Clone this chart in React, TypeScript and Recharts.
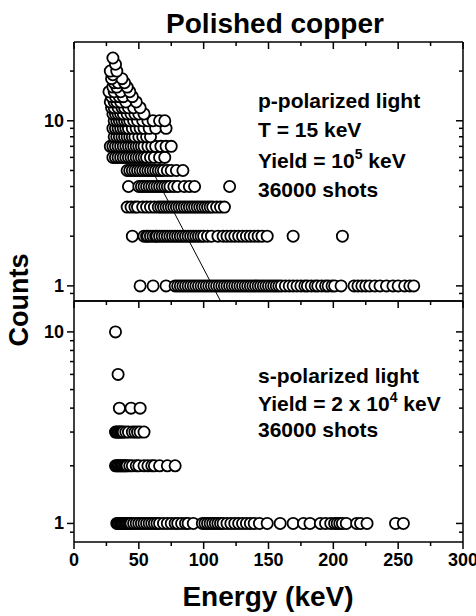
import React from "react";
import { ScatterChart, Scatter, XAxis, YAxis } from "recharts";

const FONT = "'Liberation Sans', Arial, Helvetica, sans-serif";

// count levels and the energies (keV) seen at each level, p-polarized light (top panel)
const pLevels = [1, 2, 3, 4, 5, 6, 7, 8, 9, 10, 11, 12, 13, 14, 15, 16, 17, 18, 19, 20, 22, 24];
const pEnergies = [
  [51, 61, 71, 78, 80, 82, 84, 86, 88, 90, 92, 94, 96, 98, 100, 102, 104, 106, 108, 110, 112, 114, 116, 118, 120, 122, 124, 126, 128, 130, 132, 134, 136, 138, 140, 142, 144, 146, 148, 150, 152, 154, 156, 158, 160, 163, 166, 169, 172, 175, 178, 180, 183, 186, 188, 191, 194, 196, 199, 201, 206, 216, 219, 222, 225, 228, 232, 236, 241, 246, 250, 255, 259, 262],
  [45, 54, 56, 57, 59, 61, 63, 64, 66, 68, 70, 72, 74, 76, 78, 80, 82, 84, 86, 88, 90, 92, 94, 96, 98, 100, 103, 106, 111, 115, 118, 121, 124, 127, 130, 133, 136, 139, 142, 145, 149, 169, 207],
  [41, 44, 47, 49, 53, 56, 59, 62, 65, 67, 69, 71, 73, 75, 77, 79, 81, 83, 85, 87, 89, 91, 93, 95, 97, 99, 101, 103, 105, 107, 110, 113, 116],
  [42, 50, 52, 54, 56, 58, 60, 62, 64, 66, 68, 70, 72, 74, 77, 80, 85, 89, 93, 120],
  [41, 43, 45, 47, 49, 51, 53, 55, 57, 59, 61, 63, 65, 67, 69, 72, 75, 79, 84],
  [30, 32, 34, 36, 38, 40, 42, 44, 46, 48, 50, 52, 54, 56, 59, 62, 66, 70],
  [28, 30, 32, 34, 36, 38, 40, 42, 44, 46, 48, 50, 52, 54, 57, 60, 63, 67, 71, 75],
  [31, 33, 35, 37, 39, 41, 43, 45, 47, 50, 53, 56, 59],
  [30, 32, 34, 36, 38, 40, 42, 45, 48, 51, 54, 58, 63, 71],
  [31, 33, 35, 37, 39, 41, 43, 46, 49, 53, 57, 61, 66, 70],
  [30, 32, 34, 36, 38, 41, 44, 47, 50, 54],
  [29, 31, 34, 37, 39, 42, 46, 51],
  [28, 31, 33, 36, 40, 48],
  [29, 32, 35, 38, 45],
  [27, 31, 36, 43],
  [30, 33, 41],
  [31, 34, 39],
  [29, 37],
  [30],
  [28, 33],
  [32],
  [30],
];

// s-polarized light (bottom panel)
const sLevels = [1, 2, 3, 4, 6, 10];
const sEnergies = [
  [33, 34, 35, 36, 37, 38, 39, 40, 41, 42, 43, 44, 46, 48, 50, 52, 54, 56, 58, 60, 62, 64, 66, 69, 72, 75, 78, 80, 83, 86, 88, 92, 99, 101, 103, 105, 107, 109, 111, 113, 115, 118, 121, 124, 127, 130, 133, 136, 139, 143, 149, 159, 169, 177, 182, 190, 194, 198, 201, 203, 205, 207, 210, 218, 221, 226, 248, 254],
  [32, 33, 34, 35, 36, 37, 38, 39, 40, 41, 43, 45, 48, 50, 54, 57, 60, 62, 66, 72, 78],
  [32, 33, 34, 35, 36, 37, 38, 40, 42, 45, 47, 49, 51, 54],
  [35, 44, 51],
  [34],
  [32],
];

// fitted exponential drawn across the top panel
const fitEnergy = [30, 113];
const fitCounts = [14.2, 0.81];

const xTicks = [0, 25, 50, 75, 100, 125, 150, 175, 200, 225, 250, 275, 300];
const xLabels = [0, 50, 100, 150, 200, 250, 300];
const topYTicks = [0.9, 1, 2, 3, 4, 5, 6, 7, 8, 9, 10, 20];
const bottomYTicks = [0.9, 1, 2, 3, 4, 5, 6, 7, 8, 9, 10];
const yLabels = [1, 10];

const pData = pLevels.flatMap((c, i) => pEnergies[i].map((e) => ({ e, c })));
const sData = sLevels.flatMap((c, i) => sEnergies[i].map((e) => ({ e, c })));
const fitData = fitEnergy.map((e, i) => ({ e, c: fitCounts[i] }));

const W = 476;
const LEFT = 74;
const RIGHT = 13;

const Dot = (p: any) => (
  <circle cx={p.cx} cy={p.cy} r={5.6} fill="#fff" stroke="#000" strokeWidth={1.8} />
);

const tickText = {
  fontFamily: FONT,
  fontWeight: 700,
  fontSize: 18,
  fill: "#000",
};

const BottomTick = (p: any) => {
  const major = xLabels.includes(p.payload.value);
  const len = major ? 7 : 4;
  return (
    <g>
      <line x1={p.x} x2={p.x} y1={p.y} y2={p.y + len} stroke="#000" strokeWidth={1.5} />
      {major && (
        <text x={p.x} y={p.y + 24} textAnchor="middle" style={tickText}>
          {p.payload.value}
        </text>
      )}
    </g>
  );
};

const TopTick = (p: any) => {
  const len = xLabels.includes(p.payload.value) ? 7 : 4;
  return <line x1={p.x} x2={p.x} y1={p.y} y2={p.y + len} stroke="#000" strokeWidth={1.5} />;
};

const LeftTick = (p: any) => {
  const major = yLabels.includes(p.payload.value);
  const len = major ? 7 : 4;
  return (
    <g>
      <line x1={p.x} x2={p.x - len} y1={p.y} y2={p.y} stroke="#000" strokeWidth={1.5} />
      {major && (
        <text x={p.x - len - 3} y={p.y + 6} textAnchor="end" style={tickText}>
          {p.payload.value}
        </text>
      )}
    </g>
  );
};

const RightTick = (p: any) => {
  const len = yLabels.includes(p.payload.value) ? 7 : 4;
  return <line x1={p.x} x2={p.x - len} y1={p.y} y2={p.y} stroke="#000" strokeWidth={1.5} />;
};

const axisLine = { stroke: "#000", strokeWidth: 1.5 };

function Panel({
  height,
  topH,
  bottomH,
  domain,
  yTicks,
  data,
  fit,
  labels,
}: {
  height: number;
  topH: number;
  bottomH: number;
  domain: [number, number];
  yTicks: number[];
  data: { e: number; c: number }[];
  fit?: { e: number; c: number }[];
  labels: boolean;
}) {
  return (
    <ScatterChart width={W} height={height} margin={{ top: 0, right: 0, bottom: 0, left: 0 }}>
      <XAxis
        xAxisId="b"
        dataKey="e"
        type="number"
        domain={[0, 300]}
        ticks={labels ? xTicks : []}
        interval={0}
        height={bottomH}
        tickSize={0}
        tickMargin={0}
        tickLine={false}
        axisLine={axisLine}
        tick={labels ? <BottomTick /> : false}
        allowDataOverflow
      />
      <XAxis
        xAxisId="t"
        orientation="top"
        dataKey="e"
        type="number"
        domain={[0, 300]}
        ticks={xTicks}
        interval={0}
        height={topH}
        tickSize={0}
        tickMargin={0}
        tickLine={false}
        axisLine={axisLine}
        tick={<TopTick />}
        allowDataOverflow
      />
      <YAxis
        yAxisId="l"
        dataKey="c"
        type="number"
        scale="log"
        domain={domain}
        ticks={yTicks}
        interval={0}
        width={LEFT}
        tickSize={0}
        tickMargin={0}
        tickLine={false}
        axisLine={axisLine}
        tick={<LeftTick />}
        allowDataOverflow
      />
      <YAxis
        yAxisId="r"
        orientation="right"
        dataKey="c"
        type="number"
        scale="log"
        domain={domain}
        ticks={yTicks}
        interval={0}
        width={RIGHT}
        tickSize={0}
        tickMargin={0}
        tickLine={false}
        axisLine={axisLine}
        tick={<RightTick />}
        allowDataOverflow
      />
      {fit && (
        <Scatter
          xAxisId="b"
          yAxisId="l"
          data={fit}
          line={{ stroke: "#000", strokeWidth: 1 }}
          shape={() => <g />}
          isAnimationActive={false}
        />
      )}
      <Scatter
        xAxisId="b"
        yAxisId="l"
        data={data}
        shape={<Dot />}
        isAnimationActive={false}
      />
    </ScatterChart>
  );
}

const txt = { fontFamily: FONT, fontWeight: 700, fill: "#000" };

export default function App() {
  return (
    <div style={{ position: "absolute", left: 0, top: 0, width: W, height: 616, background: "#fff" }}>
      <div style={{ position: "absolute", left: 0, top: 0 }}>
        <Panel
          height={616}
          topH={301}
          bottomH={74}
          domain={[0.8, 14.5]}
          yTicks={bottomYTicks}
          data={sData}
          labels
        />
      </div>
      <div style={{ position: "absolute", left: 0, top: 0 }}>
        <Panel
          height={310}
          topH={42}
          bottomH={9}
          domain={[0.81, 30]}
          yTicks={topYTicks}
          data={pData}
          fit={fitData}
          labels={false}
        />
      </div>
      <svg
        width={W}
        height={616}
        style={{ position: "absolute", left: 0, top: 0, pointerEvents: "none" }}
      >
        <text x={275} y={33} textAnchor="middle" fontSize={28} style={txt}>
          Polished copper
        </text>
        <text x={268} y={606} textAnchor="middle" fontSize={28} style={txt}>
          Energy (keV)
        </text>
        <text
          x={0}
          y={0}
          transform="translate(28,300) rotate(-90)"
          textAnchor="middle"
          fontSize={27}
          style={txt}
        >
          Counts
        </text>
        <g fontSize={21} style={txt}>
          <text x={258} y={108}>p-polarized light</text>
          <text x={258} y={137}>T = 15 keV</text>
          <text x={258} y={168}>
            Yield = 10<tspan dy={-9} fontSize={14}>5</tspan>
            <tspan dy={9}> keV</tspan>
          </text>
          <text x={258} y={197}>36000 shots</text>
          <text x={258} y={383}>s-polarized light</text>
          <text x={258} y={411}>
            Yield = 2 x 10<tspan dy={-9} fontSize={14}>4</tspan>
            <tspan dy={9}> keV</tspan>
          </text>
          <text x={258} y={437}>36000 shots</text>
        </g>
      </svg>
    </div>
  );
}
